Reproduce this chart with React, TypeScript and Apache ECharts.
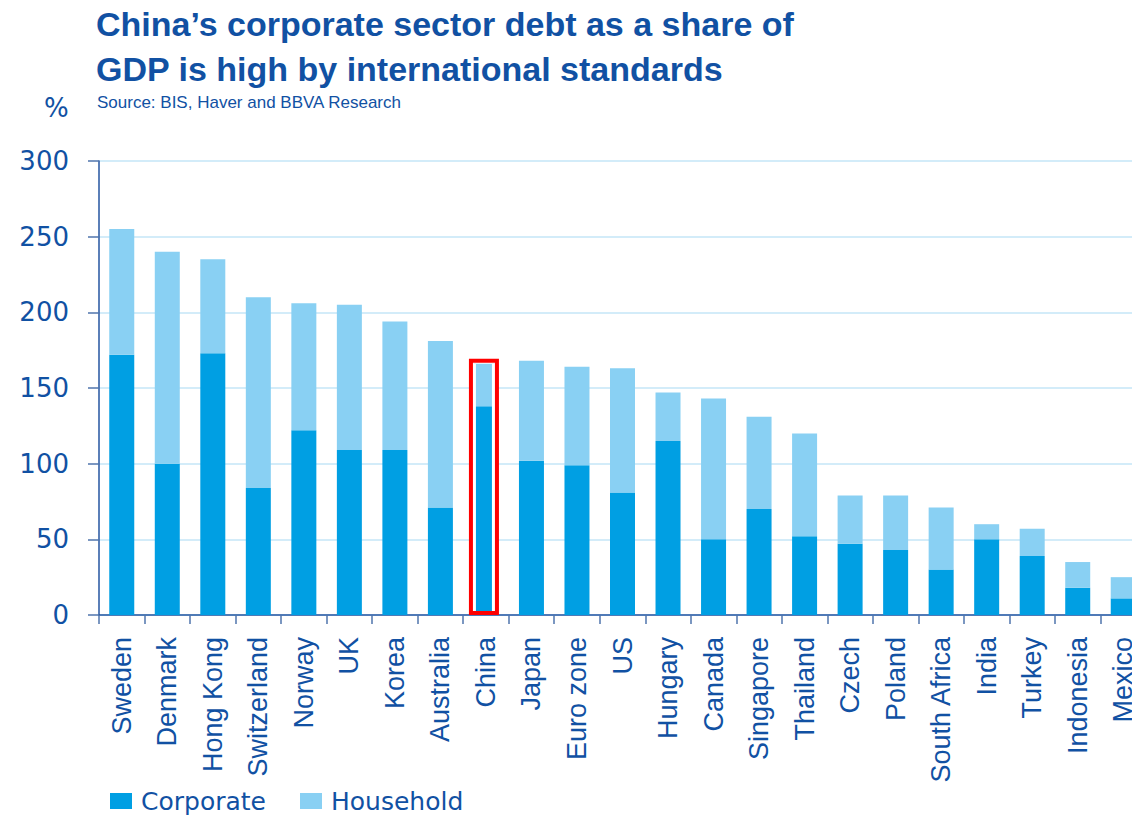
import React, { useEffect, useRef } from "react";
import * as echarts from "echarts";

const countries = [
  "Sweden", "Denmark", "Hong Kong", "Switzerland", "Norway", "UK", "Korea", "Australia",
  "China", "Japan", "Euro zone", "US", "Hungary", "Canada", "Singapore", "Thailand",
  "Czech", "Poland", "South Africa", "India", "Turkey", "Indonesia", "Mexico",
];
const corporate = [172, 100, 173, 84, 122, 109, 109, 71, 138, 102, 99, 81, 115, 50, 70, 52, 47, 43, 30, 50, 39, 18, 11];
const household = [83, 140, 62, 126, 84, 96, 85, 110, 28, 66, 65, 82, 32, 93, 61, 68, 32, 36, 41, 10, 18, 17, 14];
const yTicks = [0, 50, 100, 150, 200, 250, 300];
const highlight = "China";

const BLUE_TEXT = "#1151a3";
const AXIS = "#2455a0";
const CORP = "#009fe3";
const HOUSE = "#89d0f3";

export default function App() {
  const ref = useRef<HTMLDivElement>(null);
  useEffect(() => {
    if (!ref.current) return;
    const chart = echarts.init(ref.current, null, { renderer: "svg" });
    const sans = "'Liberation Sans', Arial, sans-serif";
    chart.setOption({
      animation: false,
      backgroundColor: "#ffffff",
      title: [
        {
          text: "China’s corporate sector debt as a share of\nGDP is high by international standards",
          left: 96,
          top: 1,
          padding: 0,
          textStyle: { color: BLUE_TEXT, fontSize: 34, fontWeight: "bold", fontFamily: sans, lineHeight: 45 },
        },
        {
          text: "Source: BIS, Haver and BBVA Research",
          left: 97,
          top: 94,
          padding: 0,
          textStyle: { color: BLUE_TEXT, fontSize: 17, fontWeight: "normal", fontFamily: sans },
        },
        {
          text: "%",
          left: 44,
          top: 95,
          padding: 0,
          textStyle: { color: BLUE_TEXT, fontSize: 26, fontWeight: "normal", fontFamily: "'DejaVu Sans', sans-serif" },
        },
      ],
      legend: {
        left: 110,
        top: 788,
        padding: 0,
        itemWidth: 22,
        itemHeight: 16,
        itemGap: 34,
        icon: "rect",
        textStyle: { color: BLUE_TEXT, fontSize: 25, lineHeight: 26, fontFamily: "'DejaVu Sans', sans-serif", padding: [0, 0, 0, 4] },
        data: ["Corporate", "Household"],
      },
      grid: { left: 99, right: 0, top: 161, bottom: 201, containLabel: false },
      xAxis: {
        type: "category",
        data: countries,
        axisLine: { show: true, lineStyle: { color: AXIS, width: 1.5 } },
        axisTick: { show: true, alignWithLabel: false, length: 9, lineStyle: { color: "#4f74ad", width: 1.5 } },
        axisLabel: {
          rotate: 90,
          interval: 0,
          margin: 22,
          color: BLUE_TEXT,
          fontSize: 27,
          fontFamily: sans,
        },
        splitLine: { show: false },
      },
      yAxis: {
        type: "value",
        min: yTicks[0],
        max: yTicks[yTicks.length - 1],
        interval: 50,
        axisLine: { show: true, lineStyle: { color: AXIS, width: 1.5 } },
        axisTick: { show: true, length: 11, lineStyle: { color: "#4f74ad", width: 1.5 } },
        axisLabel: { margin: 30, color: BLUE_TEXT, fontSize: 26, fontFamily: "'DejaVu Sans', sans-serif" },
        splitLine: { show: true, lineStyle: { color: "#d3ecf9", width: 2 } },
      },
      series: [
        {
          name: "Corporate",
          type: "bar",
          stack: "total",
          barWidth: 25,
          itemStyle: { color: CORP },
          data: corporate,
        },
        {
          name: "Household",
          type: "bar",
          stack: "total",
          barWidth: 25,
          itemStyle: { color: HOUSE },
          data: household,
        },
      ],
    });

    const idx = countries.indexOf(highlight);
    const total = corporate[idx] + household[idx];
    const cx = (chart.convertToPixel({ xAxisIndex: 0 }, highlight) as number) - 2;
    const yTop = chart.convertToPixel({ yAxisIndex: 0 }, total) as number;
    const y0 = chart.convertToPixel({ yAxisIndex: 0 }, 0) as number;
    chart.setOption({
      graphic: [
        {
          type: "rect",
          z: 100,
          shape: { x: cx - 11, y: yTop, width: 3, height: y0 - yTop - 4 },
          style: { fill: "#ffffff" },
        },
        {
          type: "rect",
          z: 100,
          shape: { x: cx + 8, y: yTop, width: 3.5, height: y0 - yTop - 4 },
          style: { fill: "#ffffff" },
        },
        {
          type: "rect",
          z: 101,
          shape: { x: cx - 13, y: yTop - 3, width: 26, height: y0 - 2 - (yTop - 3) },
          style: { fill: "none", stroke: "#ff0000", lineWidth: 4 },
        },
      ],
    });

    return () => chart.dispose();
  }, []);

  return (
    <div style={{ position: "absolute", left: 0, top: 0, width: 1132, height: 816, overflow: "hidden" }}>
      <div ref={ref} style={{ width: 1146, height: 816 }} />
    </div>
  );
}
